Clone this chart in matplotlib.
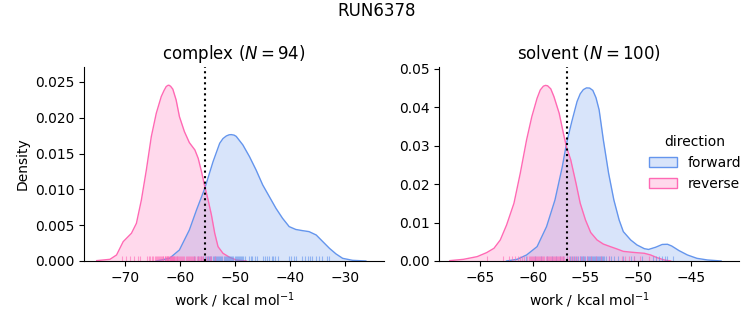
import matplotlib
matplotlib.use("Agg")
import matplotlib.pyplot as plt
from matplotlib.patches import Patch
from matplotlib.colors import to_rgba
import matplotlib.transforms as mtransforms

# ---------------- data ----------------
title = "RUN6378"
phases = ["complex", "solvent"]
n_samples = [94, 100]
directions = ["forward", "reverse"]
colors = {"forward": "#6495ED", "reverse": "#FF69B4"}
dg_lines = [-55.5, -56.8]

# complex KDE curves (x, density)
cx_fwd = [-64.3, -61.9, -60.1, -58.3, -57.0, -55.5, -54.0, -52.8, -52.2, -51.6, -51.1,
          -50.7, -50.2, -49.8, -48.6, -47.4, -46.2, -45.0, -43.8, -42.6, -41.4, -40.2,
          -39.0, -37.8, -36.6, -35.3, -34.1, -32.9, -31.7, -30.5, -28.7, -26.3]
cy_fwd = [0.0, 0.00037, 0.00154, 0.00433, 0.00713, 0.01015, 0.01388, 0.01644, 0.01710,
          0.01746, 0.01762, 0.01765, 0.01758, 0.01740, 0.01621, 0.01458, 0.01271, 0.01062,
          0.00899, 0.00736, 0.00596, 0.00480, 0.00440, 0.00424, 0.00410, 0.00363, 0.00270,
          0.00177, 0.00098, 0.00037, 0.00009, 0.0]
cx_rev = [-75.1, -72.7, -71.5, -70.3, -68.8, -67.9, -67.0, -66.1, -65.2, -64.3, -63.4,
          -62.9, -62.5, -62.2, -62.0, -61.7, -61.3, -60.7, -60.1, -59.2, -58.3, -57.3,
          -56.7, -56.1, -55.5, -54.9, -54.3, -53.7, -53.1, -52.2, -51.0, -49.8, -48.0]
cy_rev = [0.00005, 0.00023, 0.00084, 0.0027, 0.00387, 0.00526, 0.00852, 0.01271, 0.01737,
          0.02063, 0.02296, 0.02380, 0.02436, 0.02452, 0.02455, 0.02440, 0.02400, 0.02249,
          0.02016, 0.01807, 0.01653, 0.01551, 0.01434, 0.01248, 0.01039, 0.00852, 0.00643,
          0.00387, 0.0020, 0.00107, 0.00051, 0.00014, 0.0]

# solvent KDE curves (x, density)
sx_fwd = [-62.5, -61.5, -60.6, -59.6, -58.7, -57.9, -57.2, -56.8, -56.3, -55.8, -55.5,
          -55.2, -54.9, -54.6, -54.3, -54.0, -53.7, -53.3, -52.8, -52.3, -51.8, -51.4,
          -50.7, -50.1, -49.4, -49.0, -48.3, -47.7, -47.2, -46.8, -46.1, -45.3, -44.4,
          -43.4, -42.1]
sy_fwd = [0.0, 0.00043, 0.00156, 0.00373, 0.00894, 0.01588, 0.02456, 0.03064, 0.03628,
          0.04149, 0.04350, 0.04460, 0.04505, 0.04500, 0.04440, 0.04250, 0.03932, 0.03151,
          0.02283, 0.01588, 0.01068, 0.00764, 0.00547, 0.00417, 0.00320, 0.00300, 0.00360,
          0.00430, 0.00435, 0.00390, 0.00269, 0.00156, 0.00069, 0.00026, 0.0]
sx_rev = [-67.9, -66.6, -65.3, -64.4, -63.7, -63.1, -62.5, -61.8, -61.2, -60.6, -60.1,
          -59.6, -59.3, -59.0, -58.8, -58.6, -58.3, -58.0, -57.5, -57.1, -56.8, -56.4,
          -55.9, -55.5, -55.0, -54.5, -53.9, -53.3, -52.6, -52.0, -51.4, -50.7, -50.1,
          -49.4, -48.8, -48.2, -47.5, -46.9]
sy_rev = [0.00009, 0.00043, 0.00113, 0.00217, 0.0033, 0.00547, 0.00937, 0.01502, 0.02283,
          0.03151, 0.03758, 0.04236, 0.04450, 0.04550, 0.04570, 0.04560, 0.04480, 0.04279,
          0.03845, 0.03324, 0.0296, 0.0263, 0.02022, 0.01502, 0.01068, 0.00740, 0.00547,
          0.00440, 0.00370, 0.00312, 0.00250, 0.00230, 0.00215, 0.00200, 0.00156, 0.00087,
          0.00026, 0.0]

# rug samples
crug_fwd = [-57.5, -56.8, -56.2, -55.8, -55.4, -55.1, -54.9, -54.7, -54.5, -54.3, -54.1,
            -53.9, -53.7, -53.5, -53.3, -53.1, -52.9, -52.7, -52.5, -52.3, -52.1, -51.9,
            -51.7, -51.5, -51.3, -51.1, -50.9, -50.7, -50.5, -50.3, -50.1, -49.9, -49.7,
            -49.5, -49.3, -49.1, -48.9, -48.7, -48.5, -48.3, -47.4, -47.1, -46.9, -46.4,
            -46.0, -45.0, -44.6, -44.2, -43.8, -43.4, -43.1, -42.7, -42.3, -40.2, -39.8,
            -39.4, -38.9, -37.8, -37.3, -36.8, -36.4, -36.0, -35.3, -34.8, -34.2, -33.3,
            -32.9]
crug_rev = [-70.6, -69.8, -69.0, -68.3, -67.6, -67.2, -66.0, -65.7, -65.4, -65.1, -64.9,
            -64.6, -64.4, -64.2, -64.0, -63.8, -63.6, -63.4, -63.3, -63.1, -63.0, -62.8,
            -62.7, -62.5, -62.4, -62.3, -62.2, -62.1, -62.0, -61.9, -61.8, -61.7, -61.6,
            -61.5, -61.4, -61.3, -61.2, -61.1, -61.0, -60.9, -60.8, -60.6, -60.5, -60.3,
            -60.2, -60.0, -59.8, -59.6, -59.4, -59.2, -59.0, -58.8, -58.6, -58.4, -58.2,
            -58.0, -57.8, -57.6, -57.4, -57.2, -57.0, -56.8, -56.6, -56.4, -56.2, -56.0,
            -55.8, -55.2, -54.9, -54.6, -54.3, -53.6]
srug_fwd = [-60.7, -59.8, -59.2, -58.7, -58.2, -57.8, -57.4, -57.1, -56.8, -56.5, -56.3,
            -56.1, -55.9, -55.7, -55.5, -55.4, -55.3, -55.2, -55.1, -55.0, -54.9, -54.8,
            -54.7, -54.6, -54.5, -54.4, -54.3, -54.2, -54.1, -54.0, -53.9, -53.8, -53.7,
            -53.6, -53.5, -53.4, -53.3, -53.2, -53.0, -52.8, -52.6, -52.3, -51.9, -51.4,
            -50.7, -50.4, -49.6, -48.6, -48.3, -48.0, -47.7, -47.4, -47.2, -46.7]
srug_rev = [-64.4, -62.8, -62.3, -62.0, -61.7, -61.4, -61.2, -61.0, -60.8, -60.6, -60.4,
            -60.3, -60.2, -60.1, -60.0, -59.9, -59.8, -59.7, -59.6, -59.5, -59.4, -59.3,
            -59.2, -59.1, -59.0, -58.9, -58.8, -58.7, -58.6, -58.5, -58.4, -58.3, -58.2,
            -58.1, -58.0, -57.9, -57.8, -57.7, -57.6, -57.5, -57.4, -57.3, -57.2, -57.1,
            -57.0, -56.8, -56.6, -56.4, -56.2, -56.0, -55.8, -55.5, -55.2, -54.9, -54.5,
            -54.0, -53.5, -52.8, -51.5, -51.2, -50.9, -50.4, -49.8, -49.0]

curves = [
    {"forward": (cx_fwd, cy_fwd), "reverse": (cx_rev, cy_rev)},
    {"forward": (sx_fwd, sy_fwd), "reverse": (sx_rev, sy_rev)},
]
rugs = [
    {"forward": crug_fwd, "reverse": crug_rev},
    {"forward": srug_fwd, "reverse": srug_rev},
]
xlims = [(-77.4, -23.0), (-68.9, -40.4)]
ylims = [(0, 0.0271), (0, 0.0505)]
xticks = [[-70, -60, -50, -40, -30], [-65, -60, -55, -50, -45]]
yticks = [[0, 0.005, 0.010, 0.015, 0.020, 0.025], [0, 0.01, 0.02, 0.03, 0.04, 0.05]]
ytick_fmt = ["{:.3f}", "{:.2f}"]

# ---------------- figure ----------------
fig = plt.figure(figsize=(7.53, 3.25), dpi=100)
fig.suptitle(title, fontsize=12, y=0.995)
axes = [fig.add_axes([0.1116, 0.197, 0.3984, 0.597]),
        fig.add_axes([0.5834, 0.197, 0.3980, 0.597])]

for i, ax in enumerate(axes):
    for d in directions:
        x, y = curves[i][d]
        c = colors[d]
        ax.fill_between(x, 0, y, color=c, alpha=0.25, linewidth=0)
    for d in directions:
        x, y = curves[i][d]
        ax.plot(x, y, color=colors[d], lw=1.0)
    trans = mtransforms.blended_transform_factory(ax.transData, ax.transAxes)
    for d in directions:
        ax.vlines(rugs[i][d], 0, 0.025, color=colors[d], lw=0.8, alpha=0.6,
                  transform=trans)
    ax.axvline(dg_lines[i], color="black", ls=":", lw=1.5)
    ax.set_xlim(*xlims[i])
    ax.set_ylim(*ylims[i])
    ax.set_xticks(xticks[i])
    ax.set_yticks(yticks[i])
    ax.set_yticklabels([ytick_fmt[i].format(v) for v in yticks[i]])
    ax.spines["top"].set_visible(False)
    ax.spines["right"].set_visible(False)
    ax.set_xlabel("work / kcal mol$^{-1}$")
    ax.set_title(f"{phases[i]} ($N = {n_samples[i]}$)", fontsize=12)

axes[0].set_ylabel("Density")

handles = [Patch(facecolor=to_rgba(colors[d], 0.25), edgecolor=colors[d], lw=1.0)
           for d in directions]
fig.legend(handles, directions, title="direction", frameon=False,
           loc="center left", bbox_to_anchor=(0.845, 0.499), fontsize=10,
           title_fontsize=10)

fig.savefig("out.png", dpi=100)
